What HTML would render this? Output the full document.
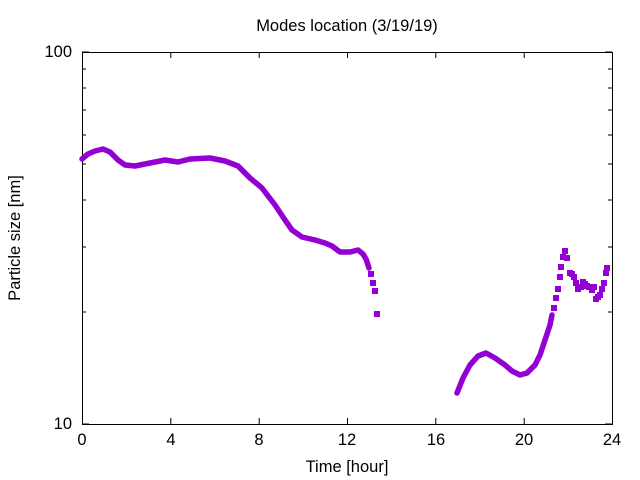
<!DOCTYPE html>
<html><head><style>body{margin:0;background:#fff}svg{display:block}text{font-family:"Liberation Sans","DejaVu Sans",sans-serif;font-size:16.5px;fill:#000}</style></head><body>
<svg width="640" height="480" viewBox="0 0 640 480">
<rect x="82.5" y="52.5" width="530" height="372" fill="none" stroke="#000" stroke-width="1"/>
<g stroke="#000" stroke-width="1">
<path d="M82.5 424v-6M82.5 52v6M170.8 424v-6M170.8 52v6M259.2 424v-6M259.2 52v6M347.5 424v-6M347.5 52v6M435.8 424v-6M435.8 52v6M524.2 424v-6M524.2 52v6M612.5 424v-6M612.5 52v6"/>
<path d="M82 424h7M612 424h-7M82 52h7M612 52h-7"/>
<path d="M82 312h4M82 247h4M82 200h4M82 164h4M82 135h4M82 110h4M82 88h4M82 69h4M612 312h-4M612 247h-4M612 200h-4M612 164h-4M612 135h-4M612 110h-4M612 88h-4M612 69h-4"/>
</g>
<g text-anchor="middle">
<text x="82" y="445">0</text><text x="171" y="445">4</text><text x="259" y="445">8</text><text x="347" y="445">12</text><text x="436" y="445">16</text><text x="524" y="445">20</text><text x="612" y="445">24</text>
<text x="347" y="472">Time [hour]</text>
<text x="347" y="31">Modes location (3/19/19)</text>
</g>
<g text-anchor="end"><text x="72" y="429">10</text><text x="72" y="57">100</text></g>
<text transform="translate(20,238) rotate(-90)" text-anchor="middle">Particle size [nm]</text>
<g fill="none" stroke="#9400d3" stroke-width="5.5" stroke-linejoin="round" stroke-linecap="round">
<polyline points="82,159 88,154 95,151 103,149 110,152 118,160 125,165 135,166 150,163 165,160 178,162 190,159 210,158 225,161 238,166 250,178 262,188 275,205 285,220 292,230 302,237 315,240 325,243 332,246 340,252 350,252 358,250 363,254 366,259 369,268"/>
<polyline points="457,393 463,378 470,365 478,356 486,353 495,358 505,365 512,371 520,375 527,373 535,365 540,355 545,340 550,325 552,315"/>
</g>
<g fill="#9400d3">
<rect x="368" y="271" width="6" height="6"/><rect x="370" y="280" width="6" height="6"/><rect x="372" y="288" width="6" height="6"/><rect x="374" y="311" width="6" height="6"/>
<rect x="551" y="305" width="6" height="6"/><rect x="553" y="295" width="6" height="6"/><rect x="555" y="286" width="6" height="6"/><rect x="557" y="274" width="6" height="6"/><rect x="558" y="264" width="6" height="6"/><rect x="560" y="254" width="6" height="6"/><rect x="562" y="248" width="6" height="6"/><rect x="564" y="255" width="6" height="6"/><rect x="567" y="270" width="6" height="6"/><rect x="569" y="271" width="6" height="6"/><rect x="571" y="274" width="6" height="6"/><rect x="573" y="280" width="6" height="6"/><rect x="575" y="286" width="6" height="6"/><rect x="578" y="284" width="6" height="6"/><rect x="580" y="279" width="6" height="6"/><rect x="582" y="281" width="6" height="6"/><rect x="584" y="283" width="6" height="6"/><rect x="586" y="284" width="6" height="6"/><rect x="589" y="287" width="6" height="6"/><rect x="591" y="284" width="6" height="6"/><rect x="593" y="296" width="6" height="6"/><rect x="595" y="294" width="6" height="6"/><rect x="597" y="292" width="6" height="6"/><rect x="599" y="286" width="6" height="6"/><rect x="601" y="280" width="6" height="6"/><rect x="603" y="270" width="6" height="6"/><rect x="604" y="265" width="6" height="6"/>
</g>
</svg>
</body></html>
